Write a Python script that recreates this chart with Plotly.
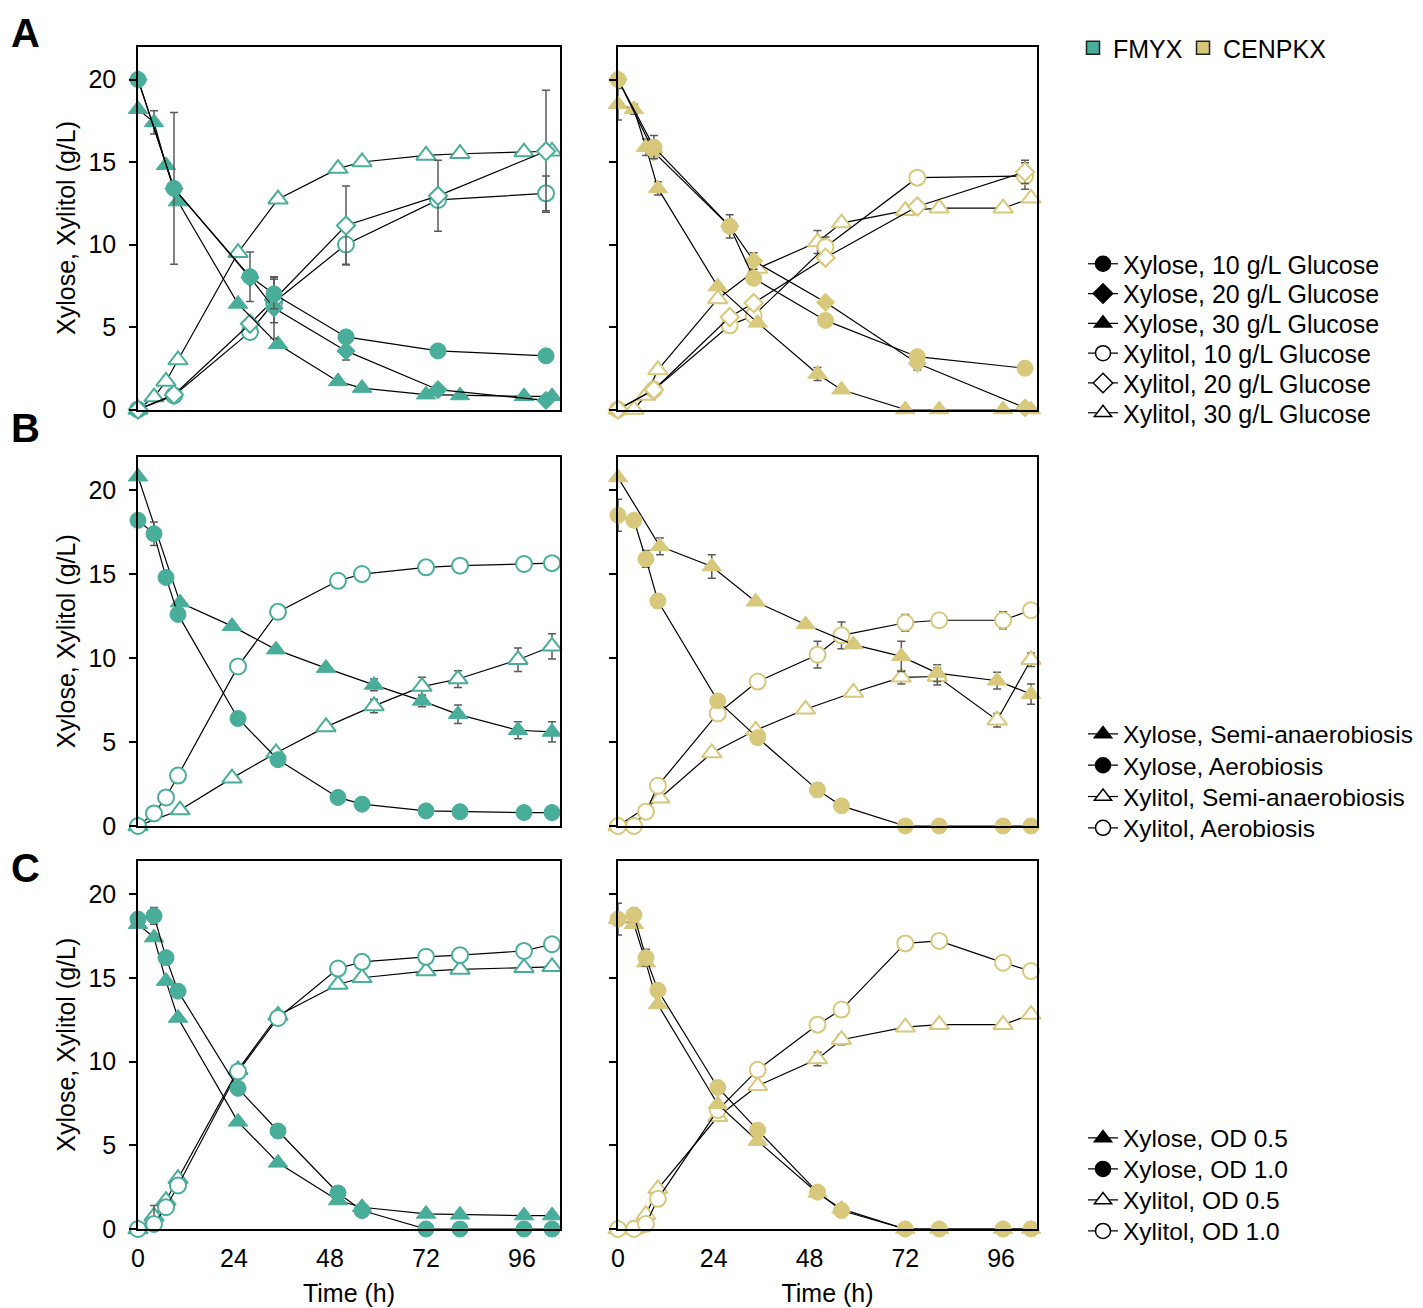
import plotly.graph_objects as go

W, H = 1423, 1308
OFF = 8  # default page body margin of the browser
FW, FH = W - OFF, H - OFF
TEAL = "#48ad99"
GOLD = "#d8c87b"
ERRC = "#5a5a5a"
FONT = "Liberation Sans, Arial, sans-serif"


def px(x):
    return (x - OFF) / FW


def py(y):
    return 1 - (y - OFF) / FH


# ---------------- sampling times (h) ----------------
T_STD = [0, 4, 7, 10, 25, 35, 50, 56, 72, 80.5, 96.5, 103.5]
T_GLU = [0, 9, 28, 34, 52, 75, 102]
T_SEMI = [0, 10.5, 23.5, 34.5, 47, 59, 71, 80, 95, 103.5]

# ---------------- Panel A (glucose) FMYX ----------------
A_L_XYLOSE_10 = [20.0, 13.4, 8.05, 7.0, 4.4, 3.55, 3.25]
A_L_XYLOSE_10_ERR = [0, 4.6, 1.5, 0.9, 0, 0, 0]
A_L_XYLOSE_20 = [20.0, 13.4, 8.0, 6.15, 3.55, 1.2, 0.55]
A_L_XYLOSE_20_ERR = [0, 0, 0, 1.85, 0.55, 0.2, 0]
A_L_XYLITOL_10 = [0, 0.85, 4.7, 6.5, 10.0, 12.7, 13.1]
A_L_XYLITOL_10_ERR = [0, 0, 0, 0, 1.2, 0, 1.05]
A_L_XYLITOL_20 = [0, 0.9, 5.2, 6.65, 11.15, 12.95, 15.65]
A_L_XYLITOL_20_ERR = [0, 0, 0, 1.4, 2.4, 2.15, 3.7]
A_L_XYLOSE_30 = [18.2, 17.4, 14.8, 12.6, 6.4, 3.95, 1.7, 1.3, 0.9, 0.85, 0.8, 0.8]
A_L_XYLOSE_30_ERR = [0, 0.7, 0, 0, 0, 0, 0, 0, 0, 0, 0, 0]
A_L_XYLITOL_30 = [0, 0.75, 1.7, 3.0, 9.5, 12.75, 14.6, 15.0, 15.4, 15.5, 15.6, 15.65]

# ---------------- Panel A (glucose) CENPKX ----------------
A_R_XYLOSE_10 = [20.0, 15.9, 11.1, 7.95, 5.4, 3.2, 2.5]
A_R_XYLOSE_10_ERR = [0, 0.7, 0.7, 0, 0, 0, 0]
A_R_XYLOSE_20 = [20.0, 15.6, 11.1, 9.0, 6.5, 2.8, 0.1]
A_R_XYLOSE_20_ERR = [0, 0, 0, 0.5, 0, 0.4, 0]
A_R_XYLITOL_10 = [0, 1.2, 5.1, 5.7, 9.85, 14.05, 14.15]
A_R_XYLITOL_10_ERR = [0, 0, 0, 0, 0.6, 0, 0.8]
A_R_XYLITOL_20 = [0, 1.2, 5.6, 6.45, 9.2, 12.3, 14.4]
A_R_XYLITOL_20_ERR = [0, 0, 0, 0, 0, 0, 0.7]
A_R_XYLOSE_30 = [18.5, 18.2, 15.9, 13.4, 7.45, 5.25, 2.15, 1.2, 0, 0, 0, 0]
A_R_XYLOSE_30_ERR = [0.95, 0.3, 0.5, 0.4, 0, 0, 0.4, 0, 0, 0, 0, 0]
A_R_XYLITOL_30 = [0, 0, 0.85, 2.4, 6.7, 8.55, 10.15, 11.3, 12.05, 12.2, 12.2, 12.8]
A_R_XYLITOL_30_ERR = [0, 0, 0, 0, 0, 0, 0.7, 0, 0, 0, 0, 0]

# ---------------- Panel B (aeration) ----------------
B_L_XYLOSE_SEMI = [20.8, 13.3, 11.9, 10.5, 9.4, 8.4, 7.45, 6.65, 5.7, 5.6]
B_L_XYLOSE_SEMI_ERR = [0, 0, 0, 0, 0.15, 0.35, 0.35, 0.55, 0.5, 0.6]
B_L_XYLOSE_AER = [18.2, 17.4, 14.8, 12.6, 6.4, 3.95, 1.7, 1.3, 0.9, 0.85, 0.8, 0.8]
B_L_XYLOSE_AER_ERR = [0, 0.7, 0, 0, 0, 0, 0, 0, 0, 0, 0, 0]
B_L_XYLITOL_SEMI = [0, 0.95, 2.85, 4.35, 5.9, 7.15, 8.3, 8.75, 9.9, 10.7]
B_L_XYLITOL_SEMI_ERR = [0, 0, 0, 0, 0.2, 0.4, 0.55, 0.5, 0.7, 0.75]
B_L_XYLITOL_AER = [0, 0.75, 1.7, 3.0, 9.5, 12.75, 14.6, 15.0, 15.4, 15.5, 15.6, 15.65]

B_R_XYLOSE_SEMI = [20.75, 16.65, 15.45, 13.35, 12.0, 10.8, 10.1, 9.1, 8.65, 7.85]
B_R_XYLOSE_SEMI_ERR = [0, 0.5, 0.7, 0.2, 0.1, 0.2, 0.9, 0.5, 0.5, 0.6]
B_R_XYLOSE_AER = [18.5, 18.2, 15.9, 13.4, 7.45, 5.25, 2.15, 1.2, 0, 0, 0, 0]
B_R_XYLOSE_AER_ERR = [0.95, 0.3, 0.5, 0.4, 0, 0, 0.4, 0, 0, 0, 0, 0]
B_R_XYLITOL_SEMI = [0, 1.65, 4.35, 5.7, 6.95, 7.95, 8.85, 8.9, 6.3, 9.9]
B_R_XYLITOL_SEMI_ERR = [0, 0, 0, 0, 0, 0.2, 0.4, 0.5, 0.4, 0.4]
B_R_XYLITOL_AER = [0, 0, 0.85, 2.4, 6.7, 8.6, 10.2, 11.35, 12.1, 12.25, 12.25, 12.85]
B_R_XYLITOL_AER_ERR = [0, 0, 0, 0, 0, 0, 0.8, 0.8, 0.5, 0, 0.5, 0]

# ---------------- Panel C (inoculum OD) ----------------
C_L_XYLOSE_OD05 = [18.2, 17.4, 14.8, 12.6, 6.4, 3.95, 1.7, 1.3, 0.9, 0.85, 0.8, 0.8]
C_L_XYLOSE_OD10 = [18.5, 18.7, 16.2, 14.2, 8.4, 5.85, 2.15, 1.1, 0, 0, 0, 0]
C_L_XYLOSE_OD10_ERR = [0, 0.5, 0, 0, 0, 0, 0, 0, 0, 0, 0, 0]
C_L_XYLITOL_OD05 = [0, 0.75, 1.7, 3.0, 9.5, 12.75, 14.6, 15.0, 15.4, 15.5, 15.6, 15.65]
C_L_XYLITOL_OD10 = [0, 0.3, 1.3, 2.6, 9.4, 12.6, 15.55, 15.95, 16.25, 16.35, 16.6, 17.0]
C_L_XYLITOL_OD10_ERR = [0, 1.1, 0, 0, 0, 0, 0, 0, 0, 0, 0, 0]

C_R_XYLOSE_OD05 = [18.5, 18.2, 15.9, 13.4, 7.45, 5.25, 2.15, 1.2, 0, 0, 0, 0]
C_R_XYLOSE_OD10 = [18.5, 18.75, 16.2, 14.25, 8.45, 5.9, 2.2, 1.1, 0, 0, 0, 0]
C_R_XYLOSE_OD10_ERR = [0.95, 0.4, 0.5, 0, 0, 0, 0.2, 0.3, 0, 0, 0, 0]
C_R_XYLITOL_OD05 = [0, 0, 0.85, 2.4, 6.7, 8.55, 10.15, 11.3, 12.05, 12.2, 12.2, 12.8]
C_R_XYLITOL_OD05_ERR = [0, 0, 0, 0, 0, 0, 0.4, 0.3, 0, 0, 0, 0]
C_R_XYLITOL_OD10 = [0, 0, 0.3, 1.8, 7.1, 9.5, 12.2, 13.1, 17.05, 17.2, 15.9, 15.4]
C_R_XYLITOL_OD10_ERR = [0, 0.45, 0, 0, 0, 0, 0, 0, 0, 0, 0, 0]

Y_TICKS = [0, 5, 10, 15, 20]
X_TICKS = [0, 24, 48, 72, 96]

# series: (times, values, errors, symbol, filled)
PANELS = [
    ("", TEAL, [
        (T_STD, A_L_XYLITOL_30, None, "triangle-up", False),
        (T_GLU, A_L_XYLITOL_10, A_L_XYLITOL_10_ERR, "circle", False),
        (T_GLU, A_L_XYLITOL_20, A_L_XYLITOL_20_ERR, "diamond", False),
        (T_STD, A_L_XYLOSE_30, A_L_XYLOSE_30_ERR, "triangle-up", True),
        (T_GLU, A_L_XYLOSE_20, A_L_XYLOSE_20_ERR, "diamond", True),
        (T_GLU, A_L_XYLOSE_10, A_L_XYLOSE_10_ERR, "circle", True),
    ]),
    ("2", GOLD, [
        (T_STD, A_R_XYLITOL_30, A_R_XYLITOL_30_ERR, "triangle-up", False),
        (T_GLU, A_R_XYLITOL_10, A_R_XYLITOL_10_ERR, "circle", False),
        (T_GLU, A_R_XYLITOL_20, A_R_XYLITOL_20_ERR, "diamond", False),
        (T_STD, A_R_XYLOSE_30, A_R_XYLOSE_30_ERR, "triangle-up", True),
        (T_GLU, A_R_XYLOSE_20, A_R_XYLOSE_20_ERR, "diamond", True),
        (T_GLU, A_R_XYLOSE_10, A_R_XYLOSE_10_ERR, "circle", True),
    ]),
    ("3", TEAL, [
        (T_SEMI, B_L_XYLITOL_SEMI, B_L_XYLITOL_SEMI_ERR, "triangle-up", False),
        (T_STD, B_L_XYLITOL_AER, None, "circle", False),
        (T_SEMI, B_L_XYLOSE_SEMI, B_L_XYLOSE_SEMI_ERR, "triangle-up", True),
        (T_STD, B_L_XYLOSE_AER, B_L_XYLOSE_AER_ERR, "circle", True),
    ]),
    ("4", GOLD, [
        (T_SEMI, B_R_XYLITOL_SEMI, B_R_XYLITOL_SEMI_ERR, "triangle-up", False),
        (T_STD, B_R_XYLITOL_AER, B_R_XYLITOL_AER_ERR, "circle", False),
        (T_SEMI, B_R_XYLOSE_SEMI, B_R_XYLOSE_SEMI_ERR, "triangle-up", True),
        (T_STD, B_R_XYLOSE_AER, B_R_XYLOSE_AER_ERR, "circle", True),
    ]),
    ("5", TEAL, [
        (T_STD, C_L_XYLITOL_OD05, None, "triangle-up", False),
        (T_STD, C_L_XYLITOL_OD10, C_L_XYLITOL_OD10_ERR, "circle", False),
        (T_STD, C_L_XYLOSE_OD05, None, "triangle-up", True),
        (T_STD, C_L_XYLOSE_OD10, C_L_XYLOSE_OD10_ERR, "circle", True),
    ]),
    ("6", GOLD, [
        (T_STD, C_R_XYLITOL_OD05, C_R_XYLITOL_OD05_ERR, "triangle-up", False),
        (T_STD, C_R_XYLITOL_OD10, C_R_XYLITOL_OD10_ERR, "circle", False),
        (T_STD, C_R_XYLOSE_OD05, None, "triangle-up", True),
        (T_STD, C_R_XYLOSE_OD10, C_R_XYLOSE_OD10_ERR, "circle", True),
    ]),
]

SIZES = {"circle": 16, "triangle-up": 17, "diamond": 14}

fig = go.Figure()

for suffix, colour, series in PANELS:
    for t, v, e, sym, filled in series:
        fig.add_trace(go.Scatter(
            x=t, y=v, mode="lines+markers", showlegend=False,
            xaxis="x" + suffix, yaxis="y" + suffix, cliponaxis=False,
            line=dict(color="black", width=1.2),
            marker=dict(symbol=sym, size=SIZES[sym],
                        color=colour if filled else "white",
                        line=dict(color=colour, width=1 if filled else 2)),
            error_y=dict(type="data", array=e if e else [0] * len(v),
                         visible=e is not None, color=ERRC,
                         thickness=1.5, width=4),
        ))

# ---------------- legends ----------------
STRAIN_NAMES = ["FMYX", "CENPKX"]
STRAIN_COLOURS = [TEAL, GOLD]
LEG_A = ["Xylose, 10 g/L Glucose", "Xylose, 20 g/L Glucose", "Xylose, 30 g/L Glucose",
         "Xylitol, 10 g/L Glucose", "Xylitol, 20 g/L Glucose", "Xylitol, 30 g/L Glucose"]
LEG_B = ["Xylose, Semi-anaerobiosis", "Xylose, Aerobiosis",
         "Xylitol, Semi-anaerobiosis", "Xylitol, Aerobiosis"]
LEG_C = ["Xylose, OD 0.5", "Xylose, OD 1.0", "Xylitol, OD 0.5", "Xylitol, OD 1.0"]
SYM_A = [("circle", True), ("diamond", True), ("triangle-up", True),
         ("circle", False), ("diamond", False), ("triangle-up", False)]
SYM_B = [("triangle-up", True), ("circle", True), ("triangle-up", False), ("circle", False)]
SYM_C = SYM_B

legend_layouts = {}
lcount = [0]


def new_legend(xpx, ypx, fsize):
    lcount[0] += 1
    key = "legend" if lcount[0] == 1 else f"legend{lcount[0]}"
    legend_layouts[key] = dict(
        x=px(xpx), y=py(ypx), xanchor="left", yanchor="middle",
        xref="paper", yref="paper", bgcolor="rgba(0,0,0,0)", borderwidth=0,
        font=dict(family=FONT, size=fsize, color="black"), itemwidth=30,
        orientation="v", tracegroupgap=0)
    return key


for name, col, xpx in zip(STRAIN_NAMES, STRAIN_COLOURS, [1073, 1183]):
    key = new_legend(xpx, 48, 25)
    fig.add_trace(go.Scatter(
        x=[None], y=[None], mode="markers", name=name, legend=key,
        marker=dict(symbol="square", size=13, color=col, line=dict(color="#222", width=1.5))))

for names, syms, ystart, step, fs in [(LEG_A, SYM_A, 264, 29.8, 25), (LEG_B, SYM_B, 734, 31.3, 24.5),
                                      (LEG_C, SYM_C, 1138, 31.0, 24.5)]:
    for i, (name, (sym, filled)) in enumerate(zip(names, syms)):
        key = new_legend(1083, ystart + i * step, fs)
        fig.add_trace(go.Scatter(
            x=[None], y=[None], mode="lines+markers", name=name, legend=key,
            line=dict(color="black", width=1.2),
            marker=dict(symbol=sym, size=15, color="black" if filled else "white",
                        line=dict(color="black", width=1.5))))

# ---------------- axes ----------------
XL = [px(138), px(560)]
XR = [px(618), px(1037)]
ROWS = [[py(409.5), py(46.5)], [py(826), py(456.5)], [py(1229), py(860.5)]]

layout_axes = {}
idx = 0
for r in range(3):
    for c in range(2):
        idx += 1
        s = "" if idx == 1 else str(idx)
        bottom = r == 2
        left = c == 0
        layout_axes["xaxis" + s] = dict(
            domain=XL if left else XR, anchor="y" + s,
            range=[0, 105.5] if left else [0, 105], showgrid=False, zeroline=False,
            showline=True, mirror=True, linecolor="black", linewidth=1.5,
            ticks="", tickvals=X_TICKS, showticklabels=bottom,
            tickfont=dict(family=FONT, size=25, color="black"),
            ticklabelstandoff=6,
            title=dict(text="Time (h)" if bottom else "", font=dict(family=FONT, size=25, color="black"),
                       standoff=14),
            automargin=False)
        layout_axes["yaxis" + s] = dict(
            domain=ROWS[r], anchor="x" + s, range=[0, 22], showgrid=False, zeroline=False,
            showline=True, mirror=True, linecolor="black", linewidth=1.5,
            ticks="outside", ticklen=7, tickwidth=1.5, tickcolor="black",
            tickvals=Y_TICKS, showticklabels=left,
            tickfont=dict(family=FONT, size=25, color="black"), ticklabelstandoff=8,
            title=dict(text="Xylose, Xylitol (g/L)" if left else "",
                       font=dict(family=FONT, size=25, color="black"), standoff=6),
            automargin=False)

annotations = []
for letter, ypx, anchor in [("A", 9, "top"), ("B", 428, "middle"), ("C", 868, "middle")]:
    annotations.append(dict(text=f"<b>{letter}</b>", x=px(9), y=py(ypx), xref="paper", yref="paper",
                            xanchor="left", yanchor=anchor, showarrow=False,
                            font=dict(family=FONT, size=40, color="black")))

fig.update_layout(
    width=FW, height=FH, plot_bgcolor="white", paper_bgcolor="white",
    margin=dict(l=0, r=0, t=0, b=0), annotations=annotations,
    font=dict(family=FONT, size=25, color="black"),
    **layout_axes, **legend_layouts)

fig.write_html("out.html")
